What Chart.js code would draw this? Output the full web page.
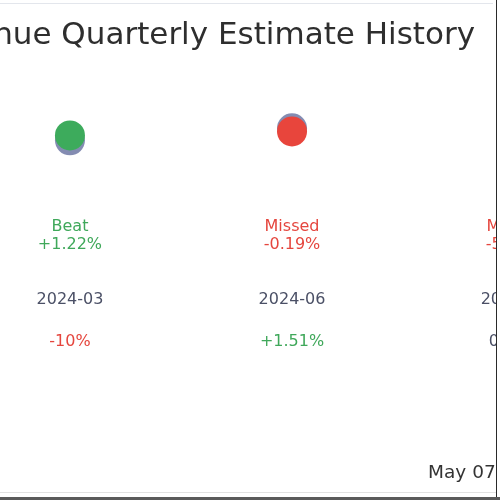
<!DOCTYPE html>
<html>
<head>
<meta charset="utf-8">
<script src="https://cdn.jsdelivr.net/npm/chart.js@4.4.1/dist/chart.umd.min.js"></script>
<style>
  html, body { margin: 0; padding: 0; background: #fff; overflow: hidden; width: 500px; height: 500px; }
  #wrap { position: absolute; left: 0; top: 0; width: 500px; height: 500px; background: #fff; }
  #c { position: absolute; left: 0; top: 0; }
  .ln { position: absolute; }
</style>
</head>
<body>
<div id="wrap">
  <canvas id="c" width="496" height="491"></canvas>
  <div class="ln" style="left:0;top:3px;width:493px;height:1px;background:#e3e6ec;"></div>
  <div class="ln" style="left:496px;top:0;width:1px;height:500px;background:#2a2a2a;"></div>
  <div class="ln" style="left:0;top:492px;width:496px;height:1px;background:#e2e2e2;"></div>
  <div class="ln" style="left:0;top:497px;width:500px;height:3px;background:#5a5a5a;"></div>
</div>
<script>
// ---- data ----
const quarters = ['2024-03', '2024-06', '2024-09'];
const estimates = [46.58, 47.90, 47.0];
const actuals = [47.12, 47.56, 44.6];
const outcome = ['Beat', 'Missed', 'Missed'];
const surprise = ['+1.22%', '-0.19%', '-5.12%'];
const growth = ['-10%', '+1.51%', '0.00%'];
const title = 'Revenue Quarterly Estimate History';
const dateNote = 'May 07, 2025';

const GREEN = '#3dab5c';
const RED = '#e8453c';
const GREEN_TXT = '#3fa85a';
const RED_TXT = '#e5463e';
const GRAY_TXT = '#4b5066';
const FONT = '"DejaVu Sans", sans-serif';

function colorFor(s) {
  if (s.startsWith('+')) return GREEN_TXT;
  if (s.startsWith('-')) return RED_TXT;
  return GRAY_TXT;
}

const labelPlugin = {
  id: 'labels',
  afterDraw(chart) {
    const ctx = chart.ctx;
    const xs = chart.scales.x;
    ctx.save();
    // title (drawn without width squeezing)
    ctx.fillStyle = '#2e2e2e';
    ctx.font = '31px ' + FONT;
    ctx.textAlign = 'right';
    ctx.textBaseline = 'alphabetic';
    ctx.fillText(title, 475, 44);

    ctx.textAlign = 'center';
    ctx.textBaseline = 'middle';
    ctx.font = '16px ' + FONT;
    quarters.forEach((q, i) => {
      const x = xs.getPixelForValue(i);
      const oc = outcome[i] === 'Beat' ? GREEN_TXT : RED_TXT;
      ctx.fillStyle = oc;
      ctx.fillText(outcome[i], x, 227);
      ctx.fillText(surprise[i], x, 245);
      ctx.fillStyle = GRAY_TXT;
      ctx.fillText(q, x, 300);
      ctx.fillStyle = colorFor(growth[i]);
      ctx.fillText(growth[i], x, 342);
    });
    ctx.fillStyle = '#333';
    ctx.textAlign = 'left';
    ctx.font = '18.5px ' + FONT;
    ctx.fillText(dateNote, 428, 473);
    ctx.restore();
  }
};

new Chart(document.getElementById('c'), {
  type: 'scatter',
  data: {
    datasets: [
      {
        label: 'Actual',
        data: actuals.map((v, i) => ({ x: i, y: v })),
        pointRadius: 15,
        pointHoverRadius: 15,
        pointBorderWidth: 0,
        pointBackgroundColor: ctx => outcome[ctx.dataIndex] === 'Beat' ? GREEN : RED,
        pointBorderColor: 'rgba(0,0,0,0)'
      },
      {
        label: 'Estimate',
        data: estimates.map((v, i) => ({ x: i, y: v })),
        pointRadius: 15,
        pointHoverRadius: 15,
        pointBorderWidth: 0,
        pointBackgroundColor: 'rgba(110,120,165,0.85)',
        pointBorderColor: 'rgba(0,0,0,0)'
      }
    ]
  },
  options: {
    responsive: false,
    animation: false,
    layout: { autoPadding: false, padding: { left: 0, right: 21, top: 64, bottom: 291 } },
    plugins: {
      legend: { display: false },
      tooltip: { enabled: false },
      title: { display: false }
    },
    scales: {
      x: { type: 'linear', display: false, min: -0.315, max: 1.824 },
      y: { type: 'linear', display: false, min: 40, max: 55 }
    }
  },
  plugins: [labelPlugin]
});
</script>
</body>
</html>
